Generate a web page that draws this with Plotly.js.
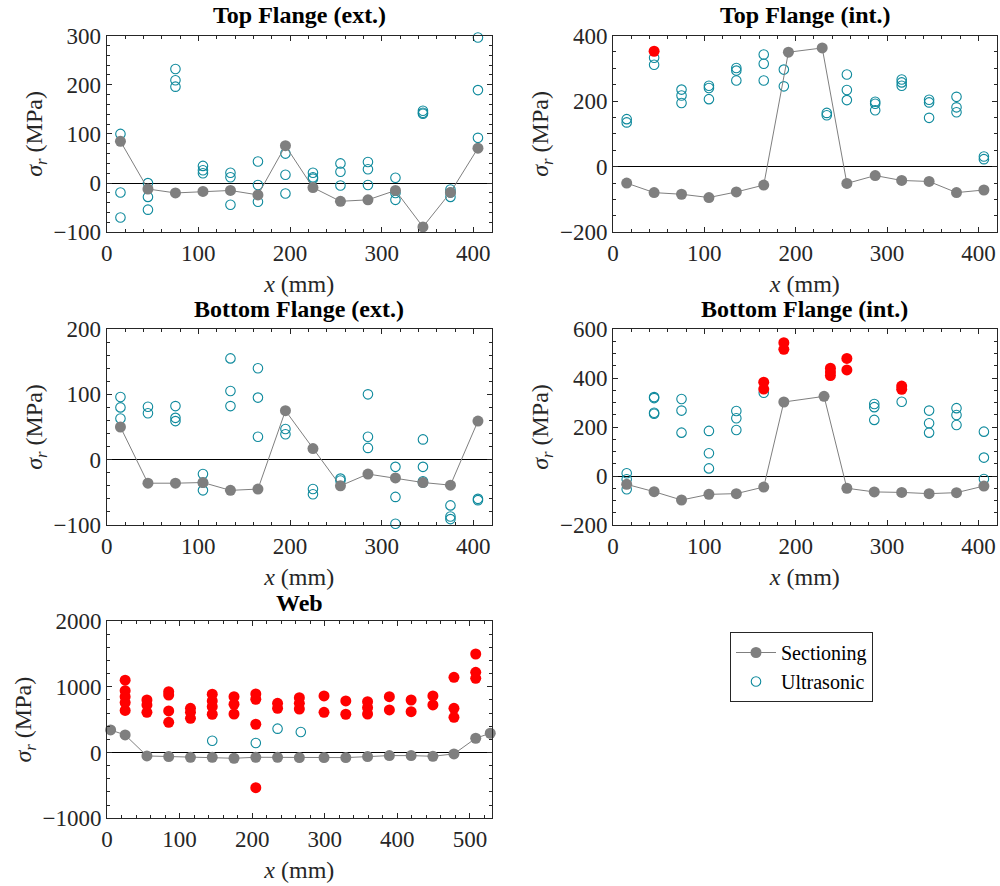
<!DOCTYPE html>
<html>
<head>
<meta charset="utf-8">
<script src="https://cdn.plot.ly/plotly-3.0.1.min.js"></script>
<style>html,body{margin:0;padding:0;background:#fff}#chart{width:1000px;height:886px}</style>
</head>
<body>
<div id="chart"></div>
<script>
// ---------- Top Flange (ext.) ----------
const tfeSecX = [15,45,75,105,135,165,195,225,255,285,315,345,375,405];
const tfeSecY = [85,-12,-20,-17,-15,-24,76,-9,-37,-34,-15,-89,-19,71];
const tfeUltX = [15,15,15, 45,45,45, 75,75,75, 105,105,105, 135,135,135, 165,165,165, 195,195,195, 225,225,225, 255,255,255, 285,285,285, 315,315,315, 345,345,345, 375,375,375, 405,405,405];
const tfeUltY = [100,-19,-70, 0,-28,-54, 232,209,196, 35,26,20, 21,12,-44, 44,-4,-38, 60,17,-21, 21,12,9, 40,23,-5, 43,28,-4, 11,-20,-34, 147,143,141, -13,-19,-28, 296,189,92];
const tfeRedX = [];
const tfeRedY = [];

// ---------- Top Flange (int.) ----------
const tfiSecX = [15,45,75,105,135,165,192,229,256,287,316,346,376,406];
const tfiSecY = [-50,-79,-84,-94,-77,-56,349,362,-51,-27,-42,-45,-79,-71];
const tfiUltX = [15,15, 45,45, 75,75,75, 105,105,105, 135,135,135, 165,165,165, 187,187, 234,234, 256,256,256, 287,287,287, 316,316,316, 346,346,346, 376,376,376, 406,406];
const tfiUltY = [145,135, 332,311, 235,217,194, 247,240,206, 301,293,263, 342,314,263, 296,245, 164,157, 281,234,203, 198,192,172, 266,257,247, 204,196,149, 213,181,166, 31,23];
const tfiRedX = [45,187];
const tfiRedY = [352,401];

// ---------- Bottom Flange (ext.) ----------
const bfeSecX = [15,45,75,105,135,165,195,225,255,285,315,345,375,405];
const bfeSecY = [50,-36,-36,-35,-47,-45,75,17,-40,-22,-28,-35,-39,59];
const bfeUltX = [15,15,15, 45,45, 75,75,75, 105,105,105, 135,135,135, 165,165,165, 195,195, 225,225, 255,255, 285,285,285, 315,315,315, 345,345,345,345, 375,375,375, 405,405];
const bfeUltY = [96,80,63, 81,71, 82,64,59, -22,-35,-47, 155,105,82, 140,95,35, 47,39, -45,-53, -29,-32, 100,35,18, -11,-57,-98, 31,-11,-33,-35, -70,-87,-91, -60,-62];
const bfeRedX = [];
const bfeRedY = [];

// ---------- Bottom Flange (int.) ----------
const bfiSecX = [15,45,75,105,135,165,187,231,256,286,316,346,376,406];
const bfiSecY = [-34,-64,-98,-75,-72,-45,302,325,-50,-65,-67,-72,-68,-41];
const bfiUltX = [15,15,15, 45,45,45,45, 75,75,75, 105,105,105, 135,135,135, 165, 286,286,286, 316, 346,346,346, 376,376,376, 406,406,406];
const bfiUltY = [11,-13,-54, 322,318,258,254, 314,267,177, 184,93,31, 265,236,188, 340, 294,281,229, 303, 267,215,177, 277,249,208, 181,75,-12];
const bfiRedX = [165,165, 187,187, 238,238,238, 256,256, 316,316];
const bfiRedY = [383,355, 544,517, 440,425,410, 480,433, 367,354];

// ---------- Web ----------
const webSecX = [5,25,55,85,115,145,175,205,235,265,299,329,359,389,419,449,478,508,528];
const webSecY = [343,267,-52,-62,-72,-72,-87,-72,-72,-77,-77,-77,-62,-47,-47,-57,-21,217,293];
const webUltX = [145,205,235,267];
const webUltY = [180,145,363,313];
const webRedX = [25,25,25,25,25, 55,55,55, 85,85,85,85, 115,115,115, 145,145,145,145, 175,175,175, 205,205,205,205, 235,235, 265,265,265, 299,299, 329,329, 359,359,359, 389,389, 419,419, 449,449, 478,478,478, 508,508,508];
const webRedY = [1100,940,850,760,640, 800,723,612, 925,875,632,460, 673,612,521, 886,784,697,582, 849,734,586, 890,810,430,-534, 749,673, 834,749,662, 860,612, 784,582, 774,682,586, 849,647, 799,621, 860,723, 1144,673,536, 1498,1220,1129];

// ---------- labels ----------
const panelTitles = ['Top Flange (ext.)','Top Flange (int.)','Bottom Flange (ext.)','Bottom Flange (int.)','Web'];
const seriesNames = ['Sectioning','Ultrasonic'];
const xLabel = '<i>x</i> (mm)';
const yLabel = '<i>σ</i><sub><i>r</i></sub> (MPa)';

const FONT = "'Liberation Serif', 'Times New Roman', serif";
const AX = '#262626';
const GRAY = '#7f7f7f';
const TEAL = '#0f8a9d';
const RED = '#ff0000';

const panels = [
  {sx:tfeSecX, sy:tfeSecY, ux:tfeUltX, uy:tfeUltY, rx:tfeRedX, ry:tfeRedY},
  {sx:tfiSecX, sy:tfiSecY, ux:tfiUltX, uy:tfiUltY, rx:tfiRedX, ry:tfiRedY},
  {sx:bfeSecX, sy:bfeSecY, ux:bfeUltX, uy:bfeUltY, rx:bfeRedX, ry:bfeRedY},
  {sx:bfiSecX, sy:bfiSecY, ux:bfiUltX, uy:bfiUltY, rx:bfiRedX, ry:bfiRedY},
  {sx:webSecX, sy:webSecY, ux:webUltX, uy:webUltY, rx:webRedX, ry:webRedY}
];

// layout geometry (pixels)
const W = 1000, H = 886;
const boxes = [
  {x0:106.7, x1:491.7, y0:35.5, y1:232.3, xr:[0,420], yr:[-100,300], ydt:100, ymin:20, xdt:100, xmin:20, ty:15},
  {x0:613,   x1:996.7, y0:35.5, y1:232.3, xr:[0,420], yr:[-200,400], ydt:200, ymin:50, xdt:100, xmin:20, ty:15},
  {x0:106.7, x1:491.7, y0:329,  y1:525,   xr:[0,420], yr:[-100,200], ydt:100, ymin:20, xdt:100, xmin:20, ty:309},
  {x0:613,   x1:996.7, y0:329,  y1:525,   xr:[0,420], yr:[-200,600], ydt:200, ymin:50, xdt:100, xmin:20, ty:309},
  {x0:107,   x1:491.7, y0:621,  y1:818.3, xr:[0,530], yr:[-1000,2000], ydt:1000, ymin:200, xdt:100, xmin:20, ty:603}
];

const traces = [];
const layout = {
  width: W, height: H,
  margin: {l:0, r:0, t:0, b:0},
  paper_bgcolor: '#fff', plot_bgcolor: '#fff',
  font: {family: FONT, size: 22, color: '#000'},
  showlegend: true,
  legend: {
    x: 0.730, y: 1 - 632/886, xanchor: 'left', yanchor: 'top',
    bordercolor: AX, borderwidth: 1, bgcolor: '#fff',
    font: {family: FONT, size: 20, color: '#000'},
    tracegroupgap: 0, itemwidth: 40
  },
  annotations: []
};

panels.forEach((p, i) => {
  const b = boxes[i];
  const k = i === 0 ? '' : String(i + 1);
  const xa = 'x' + k, ya = 'y' + k;
  traces.push({
    type: 'scatter', mode: 'markers', x: p.ux, y: p.uy, xaxis: xa, yaxis: ya,
    name: seriesNames[1], showlegend: i === 4, legendrank: 2, cliponaxis: false,
    marker: {symbol: 'circle-open', size: 9.5, color: TEAL, line: {width: 1.1, color: TEAL}}
  });
  traces.push({
    type: 'scatter', mode: 'markers', x: p.rx, y: p.ry, xaxis: xa, yaxis: ya,
    name: 'red', showlegend: false, cliponaxis: false,
    marker: {symbol: 'circle', size: 11, color: RED}
  });
  traces.push({
    type: 'scatter', mode: 'lines+markers', x: p.sx, y: p.sy, xaxis: xa, yaxis: ya,
    name: seriesNames[0], showlegend: i === 4, legendrank: 1, cliponaxis: false,
    line: {color: GRAY, width: 1},
    marker: {symbol: 'circle', size: 11, color: GRAY}
  });

  const common = {
    showline: true, linecolor: AX, linewidth: 1, mirror: 'allticks',
    ticks: 'inside', ticklen: 5, tickwidth: 1, tickcolor: AX,
    showgrid: false, fixedrange: true,
    tickfont: {family: FONT, size: 23, color: '#262626'},
    minor: {ticks: 'inside', ticklen: 3, tickwidth: 1, tickcolor: AX, showgrid: false}
  };
  layout['xaxis' + k] = Object.assign({}, common, {
    domain: [b.x0 / W, b.x1 / W], range: b.xr, anchor: ya,
    dtick: b.xdt, tick0: 0, zeroline: false,
    minor: Object.assign({}, common.minor, {dtick: b.xmin}),
    title: {text: xLabel, font: {family: FONT, size: 24, color: '#262626'}, standoff: 10}
  });
  layout['yaxis' + k] = Object.assign({}, common, {
    domain: [1 - b.y1 / H, 1 - b.y0 / H], range: b.yr, anchor: xa,
    dtick: b.ydt, tick0: 0,
    zeroline: true, zerolinecolor: '#000', zerolinewidth: 1,
    minor: Object.assign({}, common.minor, {dtick: b.ymin}),
    title: {text: yLabel, font: {family: FONT, size: 24, color: '#262626'}, standoff: 4}
  });
  layout.annotations.push({
    xref: 'paper', yref: 'paper', x: (b.x0 + b.x1) / 2 / W, y: 1 - b.ty / H,
    xanchor: 'center', yanchor: 'middle', showarrow: false,
    text: '<b>' + panelTitles[i] + '</b>',
    font: {family: FONT, size: 24, color: '#000'}
  });
});

Plotly.newPlot('chart', traces, layout, {displayModeBar: false, staticPlot: true});
</script>
</body>
</html>
